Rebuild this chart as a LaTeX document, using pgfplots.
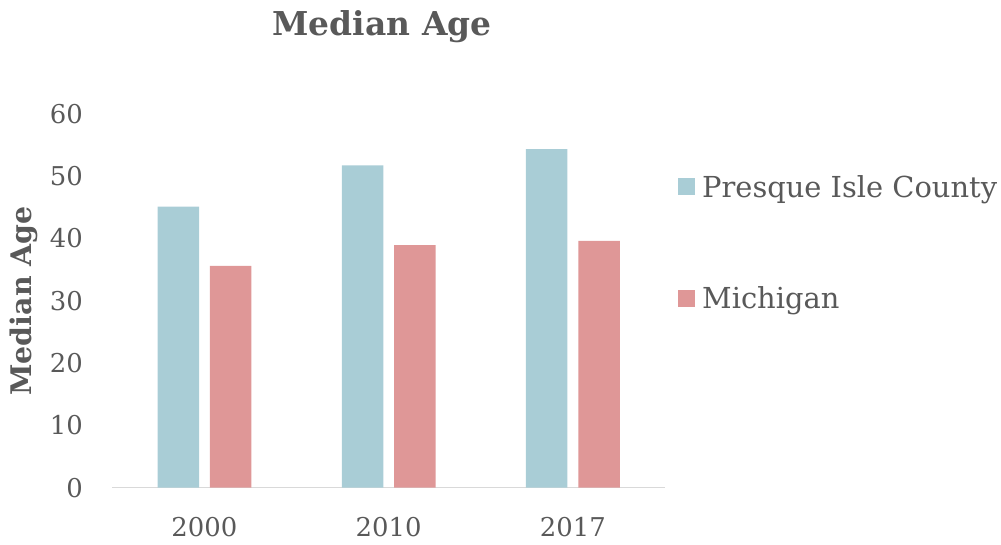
\documentclass[border=0pt]{standalone}
\usepackage{pgfplots}
\pgfplotsset{compat=1.18}
\usepackage{fontspec}
\setmainfont{DejaVu Serif}
\definecolor{txt}{HTML}{595959}
\definecolor{cblue}{HTML}{A9CDD6}
\definecolor{cred}{HTML}{DF9797}
\definecolor{axl}{HTML}{D9D9D9}
\begin{document}
\begin{tikzpicture}
\useasboundingbox (0,0) rectangle (1001bp,545bp);
\begin{axis}[
  at={(112.3bp,57.3bp)}, anchor=south west,
  scale only axis, width=552.7bp, height=374bp,
  xmin=-0.5, xmax=2.5, ymin=0, ymax=60,
  ybar, bar width=41.5bp, ybar=10.8bp,
  xtick={0,1,2}, xticklabels={2000,2010,2017},
  ytick={0,10,...,60},
  axis x line*=bottom, axis y line*=left,
  x axis line style={draw=axl, line width=1.5bp, -},
  y axis line style={draw=none},
  major tick length=0pt,
  tick style={draw=none},
  /pgf/number format/assume math mode=true,
  ticklabel style={font=\fontsize{26}{31}\selectfont, text=txt},
  xticklabel style={yshift=-26bp},
  yticklabel style={xshift=-26bp},
  legend style={at={(1.0235,0.6556)}, anchor=west, draw=none, fill=none,
    inner sep=0pt, row sep=88bp,
    font=\fontsize{29}{34}\selectfont, text=txt,
    nodes={inner xsep=7bp, inner ysep=0pt}},
  legend cell align=left,
  legend image code/.code={\fill[#1] (0bp,-8.5bp) rectangle (17bp,8.5bp);},
]
\addplot[fill=cblue, draw=none] coordinates {(0,45.1) (1,51.7) (2,54.3)};
\addplot[fill=cred, draw=none] coordinates {(0,35.6) (1,38.9) (2,39.6)};
\legend{Presque Isle County, Michigan}
\end{axis}
\node[text=txt, font=\bfseries\fontsize{33}{40}\selectfont] at (382bp,518bp) {Median Age};
\node[text=txt, font=\bfseries\fontsize{28.5}{34}\selectfont, rotate=90] at (24bp,244bp) {Median Age};
\end{tikzpicture}
\end{document}
